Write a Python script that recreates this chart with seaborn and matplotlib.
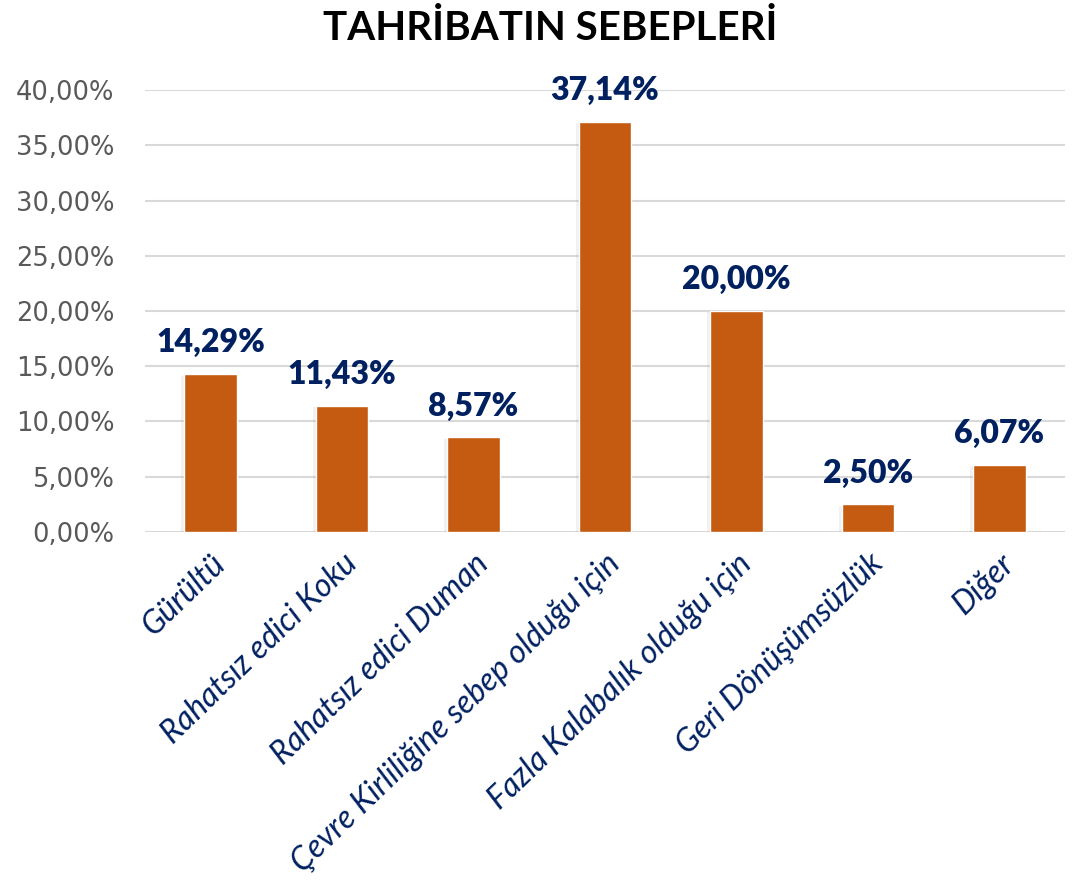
import matplotlib
matplotlib.use("Agg")
import matplotlib.pyplot as plt
import matplotlib.patheffects as pe
from matplotlib.ticker import FuncFormatter
import seaborn as sns
import pandas as pd

categories = ["Gürültü", "Rahatsız edici Koku", "Rahatsız edici Duman",
              "Çevre Kirliliğine sebep olduğu için", "Fazla Kalabalık olduğu için",
              "Geri Dönüşümsüzlük", "Diğer"]
values = [14.29, 11.43, 8.57, 37.14, 20.00, 2.50, 6.07]
title = "TAHRİBATIN SEBEPLERİ"

sns.set_theme(style="white")
plt.rcParams['font.family'] = ['Lato', 'DejaVu Sans']

df = pd.DataFrame({"cat": categories, "val": values})

fig = plt.figure(figsize=(10.89, 8.85), dpi=100)
ax = fig.add_axes([0.133, 0.399, 0.845, 0.499])

bar_color = "#C55A11"
navy = "#002060"
sns.barplot(data=df, x="cat", y="val", color=bar_color, width=0.4,
            saturation=1, ax=ax, zorder=3)
for p in ax.patches:
    p.set_path_effects([pe.SimplePatchShadow(offset=(-2, -1), shadow_rgbFace="#909090", alpha=0.12),
                        pe.Normal()])

ax.set_ylim(0, 40)
ax.set_yticks(range(0, 41, 5))
ax.yaxis.set_major_formatter(FuncFormatter(lambda v, _: f"{v:.2f}%".replace(".", ",")))
ax.grid(axis="y", color="#D9D9D9", linewidth=1.5, zorder=0)
ax.grid(axis="x", visible=False)
for s in ax.spines.values():
    s.set_visible(False)
ax.tick_params(axis="y", length=0, labelsize=18.5, labelcolor="#595959", pad=22)
ax.tick_params(axis="x", length=0, pad=12)
for lbl in ax.get_yticklabels():
    lbl.set_family(['DejaVu Sans'])
ax.set_xlabel("")
ax.set_ylabel("")
ax.set_xticks(range(len(categories)))
ax.set_xticklabels(categories, rotation=44, ha="right", va="top",
                   rotation_mode="anchor", fontsize=23, style="italic", color=navy)

for i, v in enumerate(values):
    ax.annotate(f"{v:.2f}%".replace(".", ","), (i, v), xytext=(0, 12),
                textcoords="offset points", ha="center", va="bottom",
                fontsize=23, fontweight="heavy", color=navy)

fig.text(0.505, 0.968, title, ha="center", va="center", fontsize=29,
         fontweight="bold", color="black")

fig.savefig("out.png", dpi=100)
